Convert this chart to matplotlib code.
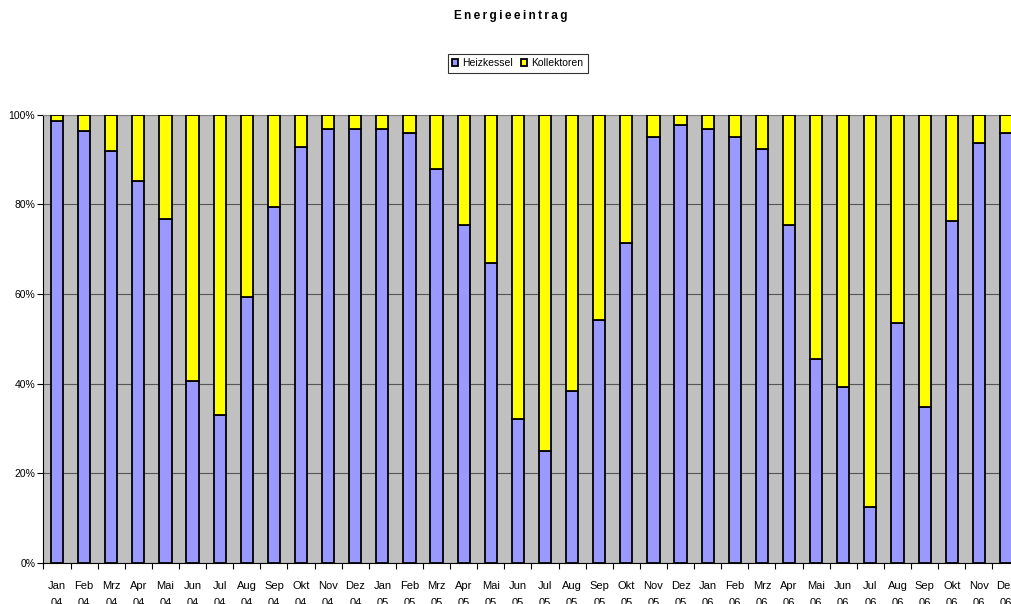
import matplotlib
matplotlib.use("Agg")
import matplotlib.pyplot as plt
from matplotlib.ticker import FixedLocator, FuncFormatter
import numpy as np

plt.rcParams['font.family'] = ['Liberation Sans', 'DejaVu Sans']

# month labels, Jan 04 .. Dez 06
months = ["Jan", "Feb", "Mrz", "Apr", "Mai", "Jun", "Jul", "Aug", "Sep", "Okt", "Nov", "Dez"]
years = ["04", "05", "06"]
labels = [m + "\n" + y for y in years for m in months]

# share of boiler (Heizkessel) in %, collectors take the rest
heizkessel = [98.5, 96.3, 92.0, 85.3, 76.8, 40.6, 33.1, 59.3, 79.4, 92.8, 96.8, 96.8,
              96.8, 95.9, 87.9, 75.4, 66.9, 32.2, 25.0, 38.3, 54.1, 71.3, 95.0, 97.7,
              96.8, 95.0, 92.3, 75.4, 45.6, 39.3, 12.5, 53.6, 34.8, 76.3, 93.8, 95.9]
kollektoren = [100 - v for v in heizkessel]

fig = plt.figure(figsize=(10.11, 6.04), dpi=100)
ax = fig.add_axes([0.043, 0.068, 0.9654, 0.742])

x = np.arange(len(labels))
w = 0.45
ax.bar(x, heizkessel, w, color="#9999FF", edgecolor="black", linewidth=1.3,
       label="Heizkessel", zorder=3)
ax.bar(x, kollektoren, w, bottom=heizkessel, color="#FFFF00", edgecolor="black",
       linewidth=1.3, label="Kollektoren", zorder=3)

ax.set_facecolor("#C0C0C0")
ax.set_xlim(-0.5, len(labels) - 0.5)
ax.set_ylim(0, 100)
ax.set_yticks([0, 20, 40, 60, 80, 100])
ax.yaxis.set_major_formatter(FuncFormatter(lambda v, p: "%d%%" % v))
ax.grid(axis="y", color="#555555", linewidth=0.8, zorder=1)

# category ticks sit between bars, labels centered under bars
ax.xaxis.set_major_locator(FixedLocator(np.arange(-0.5, len(labels), 1.0)))
ax.xaxis.set_major_formatter(FuncFormatter(lambda v, p: ""))
ax.xaxis.set_minor_locator(FixedLocator(x))
ax.set_xticklabels(labels, minor=True, linespacing=1.9, va="top")
ax.tick_params(axis="x", which="minor", length=0, labelsize=8, pad=13)
ax.tick_params(axis="x", which="major", length=4, color="black", direction="out")
ax.tick_params(axis="y", length=4, labelsize=7.5, direction="out", pad=2)

for s in ["top", "right"]:
    ax.spines[s].set_color("#808080")
    ax.spines[s].set_linewidth(0.8)
ax.spines["left"].set_color("black")
ax.spines["bottom"].set_color("black")

title = "\u2009".join("Energieeintrag")
fig.text(0.505, 0.973, title, ha="center", va="center",
         fontsize=8.5, fontweight="bold")
leg = fig.legend(loc="center", bbox_to_anchor=(0.512, 0.895), ncol=2, fontsize=7.5,
                 frameon=True, fancybox=False, edgecolor="black", handlelength=0.6,
                 handleheight=0.6, handletextpad=0.4, columnspacing=0.8,
                 borderpad=0.4)
leg.get_frame().set_linewidth(0.8)

fig.savefig("out.png", dpi=100)
